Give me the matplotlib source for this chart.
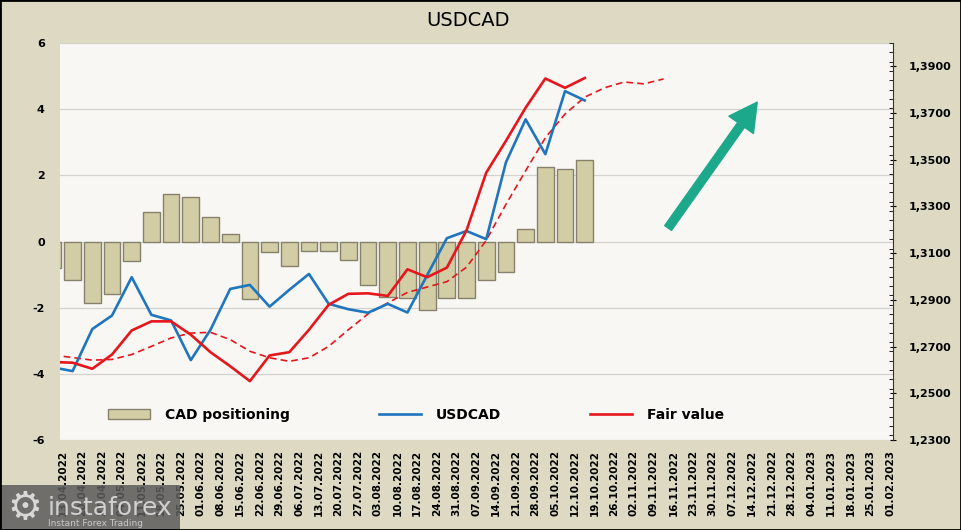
# USDCAD vs CAD positioning chart

import numpy as np
import pandas as pd
import matplotlib.pyplot as plt
from matplotlib.patches import FancyArrowPatch, Rectangle
from matplotlib.ticker import MultipleLocator, FuncFormatter

plt.rcParams['font.family'] = ['DejaVu Sans']
plt.rcParams['font.weight'] = 'bold'
plt.rcParams['axes.unicode_minus'] = False

# weekly date labels on the x axis
tick_dates = pd.date_range('2022-04-13', '2023-02-01', freq='7D')
tick_labels = list(tick_dates.strftime('%d.%m.%Y'))

# CAD net positioning (left axis), first week sits just off the left edge
cad_positioning = [-0.8, -1.15, -1.85, -1.6, -0.6, 0.9, 1.45, 1.33, 0.73, 0.22,
                   -1.75, -0.33, -0.75, -0.28, -0.28, -0.57, -1.3, -1.68, -1.7, -2.08,
                   -1.72, -1.7, -1.17, -0.92, 0.38, 2.25, 2.2, 2.45]

# USDCAD spot (right axis)
usdcad = [1.2611, 1.2595, 1.2775, 1.2833, 1.2997, 1.2836, 1.2812, 1.2642, 1.2772, 1.2947,
          1.2964, 1.2871, 1.2943, 1.3011, 1.2883, 1.2860, 1.2845, 1.2883, 1.2846, 1.3006,
          1.3164, 1.3195, 1.3160, 1.3489, 1.3673, 1.3524, 1.3794, 1.3754]

# fair value (right axis)
fair_value = [1.2634, 1.2631, 1.2605, 1.2666, 1.2769, 1.2808, 1.2808, 1.2751, 1.2676, 1.2616,
              1.2552, 1.2662, 1.2676, 1.2772, 1.2879, 1.2926, 1.2928, 1.2917, 1.3031, 1.2997,
              1.3038, 1.3198, 1.3445, 1.3581, 1.3723, 1.3848, 1.3808, 1.3850]

# smoothed fair value, runs a few weeks further
fair_value_trend = [1.2664, 1.2653, 1.2642, 1.2645, 1.2666, 1.2701, 1.2737, 1.2758, 1.2761, 1.2730,
                    1.2680, 1.2652, 1.2637, 1.2652, 1.2701, 1.2772, 1.2840, 1.2887, 1.2932, 1.2955,
                    1.2978, 1.3040, 1.3155, 1.3309, 1.3453, 1.3594, 1.3696, 1.3768, 1.3808, 1.3833,
                    1.3825, 1.3846]

# data points sit half a week after the tick dates
x_pos = np.arange(len(cad_positioning)) - 0.5
x_trend = np.arange(len(fair_value_trend)) - 0.5

W, H = 961, 530
fig = plt.figure(figsize=(W / 100, H / 100), dpi=100, facecolor='#DDD9C3')
ax = fig.add_axes([60 / W, 90 / H, 833 / W, 397 / H])
ax.set_facecolor('#F8F7F3')

# bars on the left axis
bars = ax.bar(x_pos, cad_positioning, width=0.85, color='#D3CDA5',
              edgecolor='#85816A', linewidth=1.0, zorder=2, label='CAD positioning')

ax.set_xlim(-0.14, 42.15)
ax.set_ylim(-6, 6)
ax.set_yticks(range(-6, 7, 2))
ax.grid(axis='y', color='#D4D2CC', lw=0.9)
ax.set_axisbelow(True)
for s in ax.spines.values():
    s.set_visible(False)
ax.tick_params(axis='y', length=0, pad=11, labelsize=8)
ax.set_xticks(range(len(tick_labels)))
ax.set_xticklabels(tick_labels, rotation=90, fontsize=7.5)
ax.tick_params(axis='x', length=0, pad=7)

# lines on the right axis
ax2 = ax.twinx()
line_usd, = ax2.plot(x_pos, usdcad, color='#1F75BE', lw=1.9, label='USDCAD', zorder=4)
line_fv, = ax2.plot(x_pos, fair_value, color='#E5161C', lw=1.9, label='Fair value', zorder=4)
ax2.plot(x_trend, fair_value_trend, color='#E5161C', lw=1.2, dashes=(4, 2.5), zorder=3)

ax2.set_ylim(1.23, 1.40)
ax2.set_yticks(np.arange(1.23, 1.391, 0.02))
ax2.yaxis.set_minor_locator(MultipleLocator(0.004))
ax2.yaxis.set_major_formatter(FuncFormatter(lambda v, p: f'{v:.4f}'.replace('.', ',')))
for name, s in ax2.spines.items():
    s.set_visible(name == 'right')
ax2.spines['right'].set_color('#333333')
ax2.spines['right'].set_linewidth(0.8)
ax2.tick_params(axis='y', which='major', direction='inout', length=5, width=0.8, pad=9, labelsize=8)
ax2.tick_params(axis='y', which='minor', direction='in', length=3, width=0.6)

ax2.legend(handles=[bars, line_usd, line_fv], loc='lower left', bbox_to_anchor=(0.043, 0.015),
           ncol=3, frameon=False, prop=dict(weight='bold', size=10),
           handlelength=3.0, handletextpad=1.1, columnspacing=6.4)

# green arrow
arrow = FancyArrowPatch(posA=(0.730, 0.534), posB=(0.837, 0.851), transform=ax.transAxes,
                        arrowstyle='simple,head_length=1.0,head_width=1.08,tail_width=0.3',
                        mutation_scale=20, color='#1CA98B', shrinkA=0, shrinkB=0,
                        capstyle='round', zorder=6)
ax2.add_patch(arrow)

fig.text(468 / W, 1 - 21 / H, 'USDCAD', ha='center', va='center', fontsize=14, fontweight='normal')

# watermark in the bottom-left corner
fig.add_artist(Rectangle((0, 0), 180 / W, 45 / H, transform=fig.transFigure,
                         facecolor='#5C5C5C', edgecolor='none', alpha=0.85))
fig.text(25 / W, 1 - 508 / H, '\u2699', ha='center', va='center', fontsize=28,
         color='#D8D8D8', fontweight='normal')
fig.text(48 / W, 1 - 515 / H, 'instaforex', ha='left', va='baseline', fontsize=18,
         color='#D0D0D0', fontweight='normal')
fig.text(48 / W, 1 - 526 / H, 'Instant Forex Trading', ha='left', va='baseline', fontsize=6.5,
         color='#C8C8C8', fontweight='normal')

fig.add_artist(Rectangle((0, 0), 1, 1, transform=fig.transFigure, fill=False,
                         edgecolor='black', lw=2))

fig.savefig('out.png', dpi=100, facecolor=fig.get_facecolor())
